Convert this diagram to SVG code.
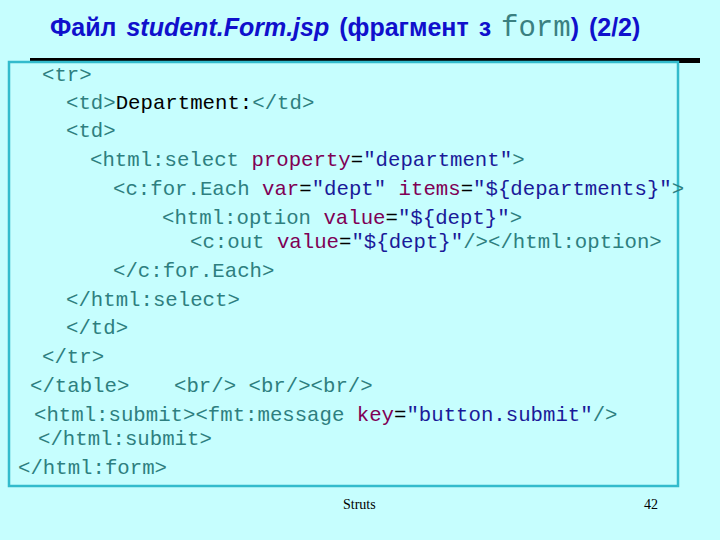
<svg xmlns="http://www.w3.org/2000/svg" width="720" height="540" viewBox="0 0 720 540">
<style>
.c{font-family:"Liberation Mono",monospace;font-size:20.7px;fill:#2E7F7F}
.a{fill:#7F0055}.v{fill:#1A1A99}.k{fill:#000}
.t{font-family:"Liberation Sans",Arial,sans-serif;font-weight:bold;font-size:25px;fill:#1010CC}
</style>
<rect width="720" height="540" fill="#C6FEFE"/>
<text class="t" x="50" y="36" word-spacing="3">Файл  <tspan font-style="italic">student.Form.jsp</tspan> (фрагмент з <tspan font-family="Liberation Mono,monospace" font-weight="normal" font-size="29" fill="#3A8080">form</tspan>)  (2/2)</text>
<rect x="30" y="58" width="670" height="5" fill="#000"/>
<rect x="9" y="62" width="669" height="424" fill="#C6FEFE" stroke="#33BBCC" stroke-width="2.5"/>
<g class="c">
<text x="42" y="81">&lt;tr&gt;</text>
<text x="66" y="109">&lt;td&gt;<tspan class="k">Department:</tspan>&lt;/td&gt;</text>
<text x="66" y="137">&lt;td&gt;</text>
<text x="90" y="166">&lt;html:select <tspan class="a">property</tspan><tspan class="k">=</tspan><tspan class="v">"department"</tspan>&gt;</text>
<text x="113" y="195">&lt;c:for.Each <tspan class="a">var</tspan><tspan class="k">=</tspan><tspan class="v">"dept"</tspan> <tspan class="a">items</tspan><tspan class="k">=</tspan><tspan class="v">"${departments}"</tspan>&gt;</text>
<text x="162" y="224">&lt;html:option <tspan class="a">value</tspan><tspan class="k">=</tspan><tspan class="v">"${dept}"</tspan>&gt;</text>
<text x="190" y="248">&lt;c:out <tspan class="a">value</tspan><tspan class="k">=</tspan><tspan class="v">"${dept}"</tspan>/&gt;&lt;/html:option&gt;</text>
<text x="113" y="277">&lt;/c:for.Each&gt;</text>
<text x="66" y="306">&lt;/html:select&gt;</text>
<text x="66" y="334">&lt;/td&gt;</text>
<text x="42" y="363">&lt;/tr&gt;</text>
<text x="30" y="392">&lt;/table&gt;</text>
<text x="174" y="392">&lt;br/&gt; &lt;br/&gt;&lt;br/&gt;</text>
<text x="34" y="421">&lt;html:submit&gt;&lt;fmt:message <tspan class="a">key</tspan><tspan class="k">=</tspan><tspan class="v">"button.submit"</tspan>/&gt;</text>
<text x="38" y="445">&lt;/html:submit&gt;</text>
<text x="18" y="474">&lt;/html:form&gt;</text>
</g>
<g font-family="Liberation Serif,serif" font-size="14" fill="#000">
<text x="343" y="509">Struts</text>
<text x="644" y="509">42</text>
</g>
</svg>
